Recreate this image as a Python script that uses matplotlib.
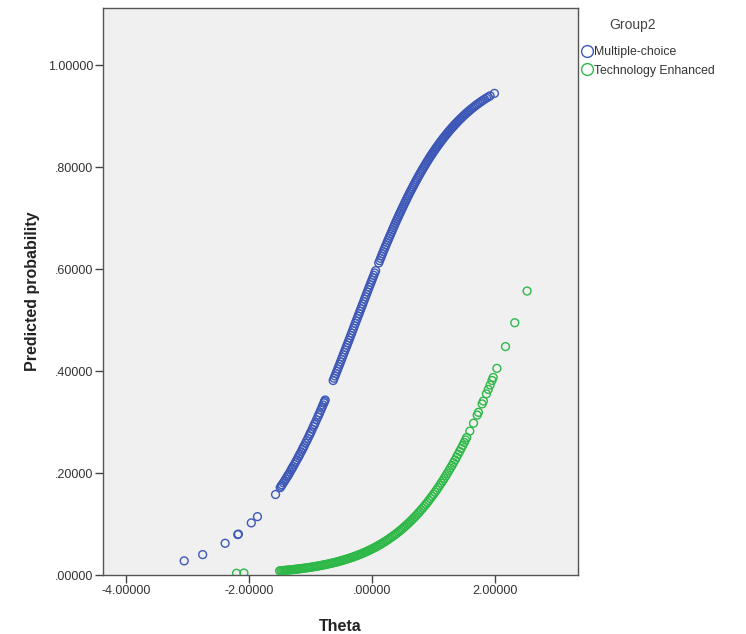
import matplotlib
matplotlib.use("Agg")
import matplotlib.pyplot as plt
from matplotlib.lines import Line2D

plt.rcParams['font.family'] = ['Liberation Sans', 'DejaVu Sans']

# ---- data ----
mc_theta = [-3.05, -2.75, -2.385, -2.18, -2.17, -1.96, -1.86, -1.566, -1.49, -1.46,
            -1.42, -1.38, -1.35, -1.31, -1.28, -1.24, -1.20, -1.17, -1.13, -1.10,
            -1.06, -1.02, -0.99, -0.95, -0.92, -0.88, -0.85, -0.81, -0.78, -0.76,
            -0.63, -0.60, -0.57, -0.54, -0.51, -0.48, -0.45, -0.42, -0.39, -0.36,
            -0.33, -0.30, -0.27, -0.24, -0.21, -0.18, -0.15, -0.12, -0.09, -0.06,
            -0.03, 0.00, 0.03, 0.06, 0.11, 0.14, 0.17, 0.20, 0.23, 0.26,
            0.29, 0.32, 0.35, 0.38, 0.41, 0.44, 0.47, 0.50, 0.53, 0.56,
            0.59, 0.62, 0.65, 0.68, 0.71, 0.74, 0.77, 0.80, 0.83, 0.86,
            0.89, 0.92, 0.95, 0.98, 1.01, 1.04, 1.07, 1.10, 1.13, 1.16,
            1.19, 1.22, 1.25, 1.28, 1.31, 1.34, 1.37, 1.40, 1.44, 1.48,
            1.52, 1.56, 1.60, 1.65, 1.70, 1.75, 1.80, 1.86, 1.92, 1.99,
            -1.475, -1.44, -1.40, -1.365, -1.33, -1.295, -1.26, -1.22, -1.185, -1.15,
            -1.115, -1.08, -1.04, -1.005, -0.97, -0.935, -0.90, -0.865, -0.83, -0.795,
            -0.77, -0.615, -0.585, -0.555, -0.525, -0.495, -0.465, -0.435, -0.405, -0.375,
            -0.345, -0.315, -0.285, -0.255, -0.225, -0.195, -0.165, -0.135, -0.105, -0.075,
            -0.045, -0.015, 0.015, 0.045, 0.125, 0.155, 0.185, 0.215, 0.245, 0.275,
            0.305, 0.335, 0.365, 0.395, 0.425, 0.455, 0.485, 0.515, 0.545, 0.575,
            0.605, 0.635, 0.665, 0.695, 0.725, 0.755, 0.785, 0.815, 0.845, 0.875,
            0.905, 0.935, 0.965, 0.995, 1.025, 1.055, 1.085, 1.115, 1.145, 1.175,
            1.205, 1.235, 1.265, 1.295, 1.325, 1.355, 1.385, 1.42, 1.46, 1.50,
            1.54, 1.58, 1.625, 1.675, 1.725, 1.775, 1.83, 1.89]
mc_prob = [0.0278, 0.0401, 0.0623, 0.0794, 0.0803, 0.1023, 0.1146, 0.158, 0.1716, 0.177,
           0.1845, 0.1923, 0.198, 0.2066, 0.2128, 0.2215, 0.2303, 0.2372, 0.2464, 0.2536,
           0.2633, 0.2733, 0.2809, 0.2913, 0.2992, 0.310, 0.3182, 0.3294, 0.3378, 0.3434,
           0.3816, 0.3906, 0.3998, 0.409, 0.4182, 0.4275, 0.4369, 0.4462, 0.4556, 0.4651,
           0.4746, 0.4841, 0.4937, 0.5032, 0.5127, 0.5222, 0.5317, 0.5412, 0.5506, 0.560,
           0.5694, 0.5787, 0.588, 0.5972, 0.6123, 0.6213, 0.6303, 0.6391, 0.6478, 0.6565,
           0.665, 0.6734, 0.6818, 0.690, 0.6981, 0.7061, 0.7139, 0.7216, 0.7292, 0.7367,
           0.744, 0.7512, 0.7582, 0.7652, 0.7719, 0.7786, 0.7851, 0.7914, 0.7976, 0.8037,
           0.8097, 0.8155, 0.8212, 0.8267, 0.832, 0.8373, 0.8424, 0.8474, 0.8523, 0.857,
           0.8616, 0.8661, 0.8705, 0.8747, 0.8788, 0.8828, 0.8867, 0.8905, 0.8953, 0.900,
           0.9045, 0.9088, 0.9129, 0.9178, 0.9225, 0.9269, 0.9311, 0.9358, 0.9402, 0.9450,
           0.1743, 0.1808, 0.1884, 0.1952, 0.2023, 0.2097, 0.2172, 0.2259, 0.2338, 0.2418,
           0.2500, 0.2585, 0.2683, 0.2771, 0.2861, 0.2953, 0.3046, 0.3141, 0.3238, 0.3336,
           0.3406, 0.3861, 0.3952, 0.4044, 0.4136, 0.4229, 0.4322, 0.4416, 0.4509, 0.4604,
           0.4699, 0.4794, 0.4889, 0.4985, 0.5080, 0.5175, 0.5270, 0.5365, 0.5459, 0.5553,
           0.5647, 0.5741, 0.5834, 0.5926, 0.6168, 0.6258, 0.6347, 0.6435, 0.6522, 0.6608,
           0.6692, 0.6776, 0.6859, 0.6941, 0.7021, 0.7100, 0.7178, 0.7254, 0.7330, 0.7404,
           0.7476, 0.7547, 0.7617, 0.7686, 0.7753, 0.7819, 0.7883, 0.7945, 0.8007, 0.8067,
           0.8126, 0.8184, 0.8240, 0.8294, 0.8347, 0.8399, 0.8449, 0.8499, 0.8547, 0.8593,
           0.8639, 0.8683, 0.8726, 0.8768, 0.8808, 0.8848, 0.8886, 0.8929, 0.8977, 0.9023,
           0.9067, 0.9109, 0.9154, 0.9202, 0.9247, 0.9290, 0.9335, 0.9380]

te_theta = [-2.20, -2.08, -1.50, -1.45, -1.41, -1.37, -1.33, -1.28, -1.24, -1.20,
            -1.15, -1.10, -1.05, -1.00, -0.95, -0.90, -0.85, -0.80, -0.75, -0.70,
            -0.65, -0.60, -0.55, -0.50, -0.45, -0.40, -0.35, -0.30, -0.25, -0.20,
            -0.15, -0.10, -0.05, 0.00, 0.05, 0.10, 0.15, 0.20, 0.25, 0.30,
            0.35, 0.40, 0.45, 0.50, 0.55, 0.60, 0.65, 0.70, 0.75, 0.80,
            0.85, 0.90, 0.95, 1.00, 1.05, 1.10, 1.15, 1.20, 1.25, 1.30,
            1.35, 1.40, 1.45, 1.50, 1.54, 1.59, 1.65, 1.71, 1.73, 1.79,
            1.81, 1.86, 1.89, 1.92, 1.95, 1.97, 2.03, 2.17, 2.32, 2.52,
            -1.475, -1.43, -1.39, -1.35, -1.305, -1.26, -1.22, -1.175, -1.125, -1.075,
            -1.025, -0.975, -0.925, -0.875, -0.825, -0.775, -0.725, -0.675, -0.625, -0.575,
            -0.525, -0.475, -0.425, -0.375, -0.325, -0.275, -0.225, -0.175, -0.125, -0.075,
            -0.025, 0.025, 0.075, 0.125, 0.175, 0.225, 0.275, 0.325, 0.375, 0.425,
            0.475, 0.525, 0.575, 0.625, 0.675, 0.725, 0.775, 0.825, 0.875, 0.925,
            0.975, 1.025, 1.075, 1.125, 1.175, 1.225, 1.275, 1.325, 1.375, 1.425,
            1.475, 1.52]
te_prob = [0.00344, 0.00399, 0.0082, 0.00872, 0.00917, 0.00963, 0.0101, 0.0108, 0.0113, 0.0119,
           0.0126, 0.0135, 0.0143, 0.0152, 0.0162, 0.0172, 0.0183, 0.0195, 0.0207, 0.0220,
           0.0234, 0.0248, 0.0264, 0.0281, 0.0298, 0.0317, 0.0336, 0.0357, 0.0380, 0.0403,
           0.0428, 0.0454, 0.0482, 0.0512, 0.0543, 0.0576, 0.0611, 0.0648, 0.0686, 0.0728,
           0.0771, 0.0816, 0.0865, 0.0915, 0.0969, 0.1025, 0.1084, 0.1146, 0.1211, 0.1279,
           0.1350, 0.1425, 0.1503, 0.1584, 0.1669, 0.1758, 0.1850, 0.1947, 0.2047, 0.2150,
           0.2257, 0.2369, 0.2483, 0.2602, 0.2699, 0.2824, 0.2979, 0.3138, 0.3192, 0.3357,
           0.3413, 0.3555, 0.3641, 0.3728, 0.3817, 0.3876, 0.4055, 0.4482, 0.495, 0.5572,
           0.00846, 0.00895, 0.0094, 0.00987, 0.01045, 0.01105, 0.0116, 0.01225, 0.01305, 0.0139,
           0.01475, 0.0157, 0.0167, 0.01775, 0.0189, 0.0201, 0.02135, 0.0227, 0.0241, 0.0256,
           0.02725, 0.02895, 0.03075, 0.03265, 0.03465, 0.03685, 0.03915, 0.04155, 0.0441, 0.0468,
           0.0497, 0.05275, 0.05595, 0.05935, 0.06295, 0.0667, 0.0707, 0.07495, 0.07935, 0.08405,
           0.0890, 0.0942, 0.0997, 0.10545, 0.1115, 0.11785, 0.1245, 0.13145, 0.13875, 0.1464,
           0.15435, 0.16265, 0.17135, 0.1804, 0.18985, 0.1997, 0.20985, 0.22035, 0.2313, 0.2426,
           0.25425, 0.2650]

x_ticks = [-4.0, -2.0, 0.0, 2.0]
x_tick_labels = ["-4.00000", "-2.00000", ".00000", "2.00000"]
y_ticks = [0.0, 0.2, 0.4, 0.6, 0.8, 1.0]
y_tick_labels = [".00000", ".20000", ".40000", ".60000", ".80000", "1.00000"]
series_names = ["Multiple-choice", "Technology Enhanced"]
legend_title = "Group2"

blue = "#3E58B8"
green = "#2EB848"

fig = plt.figure(figsize=(7.46, 6.34), dpi=100)
ax = fig.add_axes([0.138, 0.093, 0.637, 0.894])
ax.set_facecolor("#F0F0F0")

ax.scatter(mc_theta, mc_prob, s=32, facecolors="none", edgecolors=blue, linewidths=1.0, zorder=3)
ax.scatter(te_theta, te_prob, s=32, facecolors="none", edgecolors=green, linewidths=1.0, zorder=3)

ax.set_xlim(-4.37, 3.35)
ax.set_ylim(0.0, 1.112)
ax.set_xticks(x_ticks)
ax.set_xticklabels(x_tick_labels)
ax.set_yticks(y_ticks)
ax.set_yticklabels(y_tick_labels)
ax.tick_params(direction="out", length=5.5, width=1, color="#444444", pad=1.5,
               labelsize=9, labelcolor="#333333")
for sp in ax.spines.values():
    sp.set_color("#555555")
    sp.set_linewidth(1.0)

ax.set_xlabel("Theta", fontsize=11.5, fontweight="bold", color="#222222", labelpad=16)
ax.set_ylabel("Predicted probability", fontsize=11.5, fontweight="bold", color="#222222", labelpad=6)

handles = [Line2D([], [], linestyle="none", marker="o", markersize=8.5, markerfacecolor="none",
                  markeredgecolor=c, markeredgewidth=1.0) for c in (blue, green)]
fig.text(633 / 746, 1 - 25 / 634, legend_title, ha="center", va="center", fontsize=10, color="#444444")
fig.legend(handles, series_names, loc="upper left", bbox_to_anchor=(577 / 746, 1 - 41 / 634),
           frameon=False, fontsize=8.8, handlelength=0.9, handletextpad=0.1,
           labelspacing=0.55, borderaxespad=0, labelcolor="#333333")

fig.savefig("out.png", dpi=100, facecolor="white")
